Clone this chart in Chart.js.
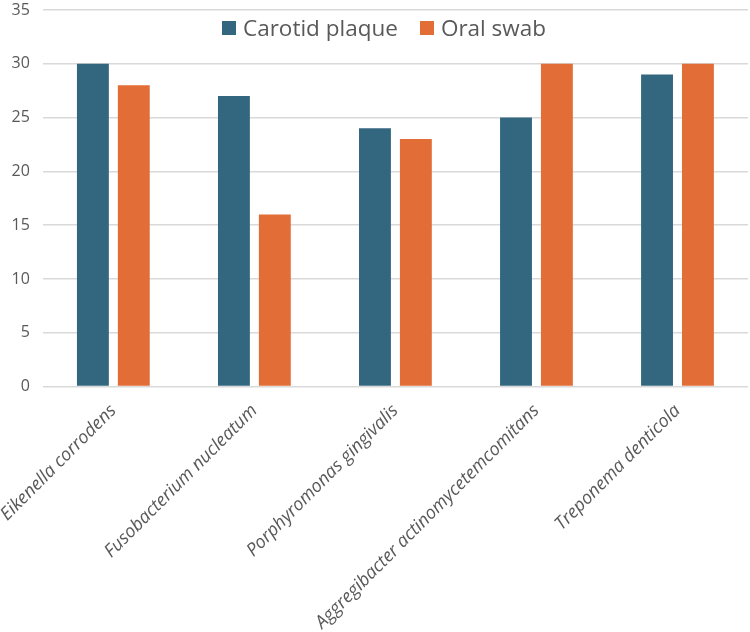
<!DOCTYPE html>
<html>
<head>
<meta charset="utf-8">
<script src="https://cdn.jsdelivr.net/npm/chart.js@4.4.1/dist/chart.umd.min.js"></script>
<style>
  body { margin: 0; background: #fff; }
  #wrap { position: relative; width: 750px; height: 632px; }
  #legend {
    position: absolute; top: 12px; left: 222px;
    font-family: "Open Sans", "Liberation Sans", sans-serif; font-size: 22.5px; color: #595959;
    display: flex; align-items: center; white-space: nowrap;
  }
  #legend span.box { display: inline-block; width: 14px; height: 14px; margin-right: 7px; }
  #legend span.item { display: inline-flex; align-items: center; margin-right: 22px; }
</style>
</head>
<body>
<div id="wrap">
  <canvas id="chart" width="750" height="632"></canvas>
  <div id="legend"></div>
</div>
<script>
const categories = ['Eikenella corrodens', 'Fusobacterium nucleatum', 'Porphyromonas gingivalis', 'Aggregibacter actinomycetemcomitans', 'Treponema denticola'];
const carotidPlaque = [30, 27, 24, 25, 29];
const oralSwab = [28, 16, 23, 30, 30];
const seriesNames = ['Carotid plaque', 'Oral swab'];
const seriesColors = ['#33677f', '#e36d36'];

// legend drawn over the plot like the original
const legend = document.getElementById('legend');
seriesNames.forEach(function(name, i) {
    legend.innerHTML += '<span class="item"><span class="box" style="background:' + seriesColors[i] + '"></span>' + name + '</span>';
});

const ctx = document.getElementById('chart');
new Chart(ctx, {
    type: 'bar',
    data: {
        labels: categories,
        datasets: [
            { label: seriesNames[0], data: carotidPlaque, backgroundColor: seriesColors[0] },
            { label: seriesNames[1], data: oralSwab, backgroundColor: seriesColors[1] }
        ]
    },
    options: {
        responsive: false,
        animation: false,
        categoryPercentage: 0.58,
        barPercentage: 0.78,
        layout: { padding: { top: 0, right: 2, left: 4, bottom: 0 } },
        plugins: {
            legend: { display: false },
            tooltip: { enabled: false }
        },
        scales: {
            x: {
                // transparent tick marks give the gap under the axis without shifting the plot sideways
                grid: { display: true, drawOnChartArea: false, drawTicks: true, tickLength: 15, tickColor: 'rgba(0,0,0,0)' },
                border: { display: false },
                ticks: {
                    maxRotation: 45,
                    minRotation: 45,
                    color: '#595959',
                    padding: 0,
                    font: { family: '"Open Sans", "Liberation Sans", sans-serif', size: 18, style: 'italic', lineHeight: 1 }
                }
            },
            y: {
                min: 0,
                max: 35,
                ticks: {
                    stepSize: 5,
                    color: '#595959',
                    padding: 2,
                    font: { family: '"Open Sans", "Liberation Sans", sans-serif', size: 16, lineHeight: 1 }
                },
                // invisible tick marks just to push the labels away from the plot
                grid: { color: '#d9d9d9', lineWidth: 1.5, drawTicks: true, tickLength: 11, tickColor: 'rgba(0,0,0,0)' },
                border: { display: false }
            }
        }
    }
});
</script>
</body>
</html>
